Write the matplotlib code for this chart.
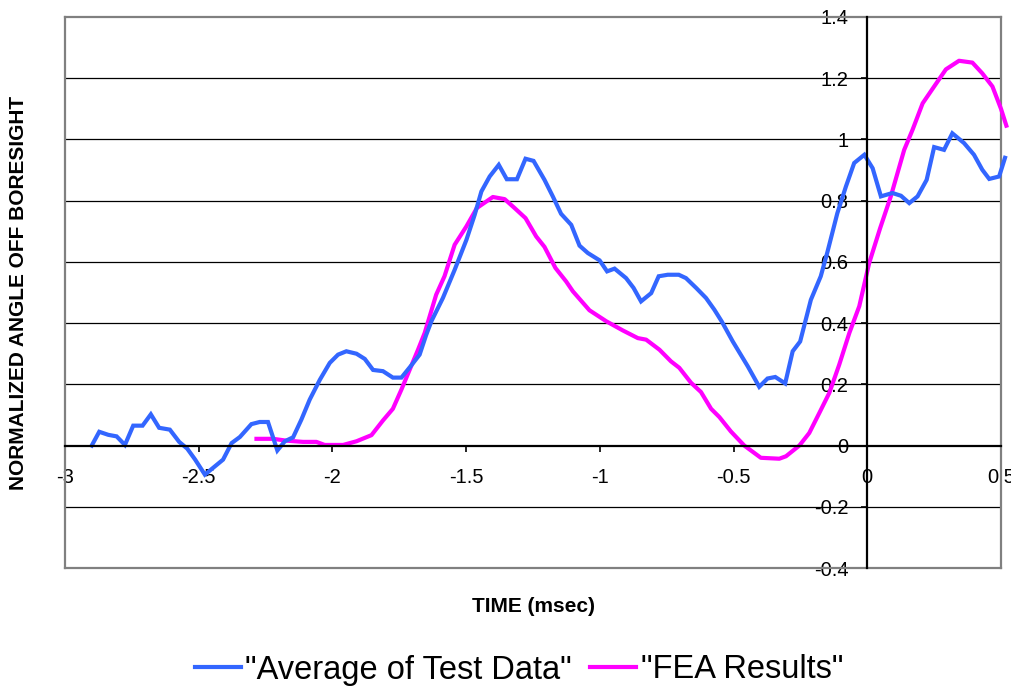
import matplotlib
matplotlib.use("Agg")
import matplotlib.pyplot as plt
from matplotlib import font_manager

# ---------------- data ----------------
test_t = [-2.900, -2.872, -2.838, -2.807, -2.776, -2.745, -2.710, -2.679, -2.648, -2.608,
          -2.573, -2.543, -2.514, -2.477, -2.409, -2.377, -2.346, -2.303, -2.272, -2.241,
          -2.206, -2.178, -2.147, -2.116, -2.085, -2.047, -2.010, -1.979, -1.948, -1.910,
          -1.879, -1.848, -1.811, -1.774, -1.742, -1.705, -1.674, -1.650, -1.630, -1.587,
          -1.543, -1.499, -1.468, -1.443, -1.412, -1.378, -1.348, -1.310, -1.278, -1.248,
          -1.207, -1.176, -1.145, -1.107, -1.076, -1.045, -1.001, -0.973, -0.945, -0.902,
          -0.874, -0.846, -0.808, -0.780, -0.746, -0.705, -0.678, -0.640, -0.603, -0.572,
          -0.544, -0.503, -0.447, -0.404, -0.373, -0.344, -0.307, -0.279, -0.251, -0.211,
          -0.174, -0.150, -0.112, -0.080, -0.049, -0.011, 0.020, 0.051, 0.094, 0.126,
          0.157, 0.188, 0.222, 0.250, 0.287, 0.318, 0.362, 0.399, 0.430, 0.456,
          0.493, 0.515]
test_v = [0.000, 0.045, 0.035, 0.030, 0.002, 0.065, 0.065, 0.102, 0.058, 0.052,
          0.012, -0.010, -0.045, -0.095, -0.046, 0.008, 0.028, 0.070, 0.077, 0.077,
          -0.016, 0.014, 0.027, 0.085, 0.150, 0.215, 0.270, 0.297, 0.308, 0.300,
          0.283, 0.247, 0.243, 0.222, 0.222, 0.262, 0.297, 0.360, 0.406, 0.482,
          0.574, 0.672, 0.754, 0.830, 0.879, 0.917, 0.870, 0.870, 0.937, 0.930,
          0.868, 0.814, 0.757, 0.721, 0.653, 0.629, 0.605, 0.569, 0.578, 0.547,
          0.515, 0.471, 0.498, 0.553, 0.558, 0.558, 0.547, 0.515, 0.482, 0.444,
          0.405, 0.340, 0.259, 0.192, 0.219, 0.224, 0.203, 0.308, 0.340, 0.476,
          0.553, 0.629, 0.759, 0.846, 0.923, 0.950, 0.906, 0.814, 0.825, 0.816,
          0.792, 0.814, 0.868, 0.975, 0.966, 1.020, 0.988, 0.950, 0.901, 0.871,
          0.879, 0.940]

fea_t = [-2.284, -2.222, -2.172, -2.110, -2.060, -2.029, -1.960, -1.910, -1.854, -1.811,
         -1.774, -1.742, -1.711, -1.680, -1.655, -1.612, -1.581, -1.543, -1.499, -1.460,
         -1.400, -1.356, -1.319, -1.278, -1.238, -1.207, -1.166, -1.126, -1.101, -1.039,
         -0.976, -0.914, -0.858, -0.827, -0.777, -0.734, -0.703, -0.659, -0.622, -0.584,
         -0.553, -0.510, -0.460, -0.398, -0.329, -0.304, -0.254, -0.217, -0.179, -0.142,
         -0.105, -0.067, -0.030, 0.007, 0.048, 0.088, 0.138, 0.169, 0.207, 0.250,
         0.294, 0.343, 0.393, 0.430, 0.468, 0.500, 0.520]
fea_v = [0.022, 0.022, 0.016, 0.012, 0.012, 0.002, 0.002, 0.014, 0.034, 0.082,
         0.120, 0.183, 0.248, 0.313, 0.368, 0.493, 0.553, 0.656, 0.716, 0.776,
         0.812, 0.805, 0.776, 0.743, 0.683, 0.649, 0.580, 0.536, 0.504, 0.442,
         0.406, 0.376, 0.351, 0.346, 0.313, 0.275, 0.254, 0.205, 0.175, 0.120,
         0.093, 0.046, 0.000, -0.040, -0.043, -0.035, 0.000, 0.041, 0.107, 0.172,
         0.264, 0.368, 0.455, 0.596, 0.710, 0.814, 0.966, 1.031, 1.118, 1.173,
         1.229, 1.257, 1.251, 1.216, 1.173, 1.100, 1.045]

x_ticks = [-3, -2.5, -2, -1.5, -1, -0.5, 0, 0.5]
x_tick_labels = ["-3", "-2.5", "-2", "-1.5", "-1", "-0.5", "0", "0.5"]
y_ticks = [-0.4, -0.2, 0, 0.2, 0.4, 0.6, 0.8, 1.0, 1.2, 1.4]
y_tick_labels = ["-0.4", "-0.2", "0", "0.2", "0.4", "0.6", "0.8", "1", "1.2", "1.4"]

series_names = ['"Average of Test Data"', '"FEA Results"']
x_title = "TIME (msec)"
y_title = "NORMALIZED ANGLE OFF BORESIGHT"

# ---------------- style ----------------
installed = {f.name for f in font_manager.fontManager.ttflist}
base_font = "Liberation Sans" if "Liberation Sans" in installed else "DejaVu Sans"
narrow_font = "Liberation Sans Narrow" if "Liberation Sans Narrow" in installed else base_font
legend_size = 26 if narrow_font != base_font else 23.5
plt.rcParams["font.family"] = [base_font, "DejaVu Sans"]

fig = plt.figure(figsize=(10.12, 6.90), dpi=100)
ax = fig.add_axes([65 / 1012, 1 - 568 / 690, (1001 - 65) / 1012, (568 - 17) / 690])

ax.set_xlim(-3, 0.5)
ax.set_ylim(-0.4, 1.4)

for yv in y_ticks:
    if yv not in (0, -0.4, 1.4):
        ax.axhline(yv, color="black", lw=0.9, zorder=1)

ax.plot(test_t, test_v, color="#3366FF", lw=3.0, label=series_names[0], zorder=4,
        clip_on=False, solid_joinstyle="miter")
ax.plot(fea_t, fea_v, color="#FF00FF", lw=3.0, label=series_names[1], zorder=3,
        clip_on=False)

# axes crossing at zero
ax.spines["left"].set_position(("data", 0))
ax.spines["bottom"].set_position(("data", 0))
for s in ("left", "bottom"):
    ax.spines[s].set_color("black")
    ax.spines[s].set_linewidth(1.6)
    ax.spines[s].set_zorder(5)
for s in ("top", "right"):
    ax.spines[s].set_color("#808080")
    ax.spines[s].set_linewidth(1.6)
# gray border on left and bottom of plot area
ax.plot([0, 0], [0, 1], transform=ax.transAxes, color="#808080", lw=1.6, clip_on=False, zorder=2)
ax.plot([0, 1], [0, 0], transform=ax.transAxes, color="#808080", lw=1.6, clip_on=False, zorder=2)

ax.set_xticks(x_ticks)
ax.set_xticklabels(x_tick_labels)
ax.set_yticks(y_ticks)
ax.set_yticklabels(y_tick_labels)
ax.tick_params(axis="x", direction="out", length=4.5, width=1.2, pad=12, labelsize=14.5)
ax.tick_params(axis="y", direction="out", length=4.5, width=1.2, pad=9, labelsize=14.5)

ax.text(0.5, -0.069, x_title, transform=ax.transAxes, ha="center", va="center",
        fontsize=15, fontweight="bold")
ax.text((18.5 - 65) / 936, 0.5, y_title, transform=ax.transAxes, ha="center", va="center",
        rotation=90, fontsize=15, fontweight="bold")

leg = fig.legend(loc="center", bbox_to_anchor=(519 / 1012, 1 - 670 / 690), ncol=2,
                 frameon=False, prop={"family": [narrow_font, "DejaVu Sans"], "size": legend_size},
                 handlelength=1.4, handletextpad=0.15, columnspacing=0.55, borderpad=0)

fig.savefig("out.png", dpi=100)
